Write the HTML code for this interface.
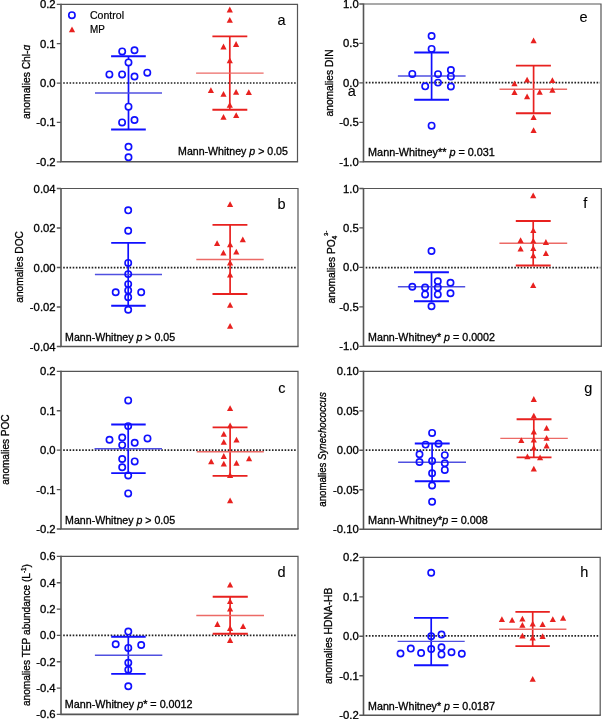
<!DOCTYPE html>
<html><head><meta charset="utf-8"><title>Figure</title>
<style>
html,body{margin:0;padding:0;background:#fff;}
body{width:602px;height:719px;overflow:hidden;}
svg{display:block;will-change:transform;}
text{font-family:"Liberation Sans", sans-serif;fill:#000;stroke:#000;stroke-width:0.32px;}
</style></head>
<body>
<svg width="602" height="719" viewBox="0 0 602 719">
<rect width="602" height="719" fill="#fff"/>
<path d="M61.0 4.3H297.5V161.8" fill="none" stroke="#555" stroke-width="1.2"/>
<path d="M61.0 3.6999999999999997V161.8H298.1" fill="none" stroke="#555" stroke-width="1.6"/>
<path d="M56.8 4.3H61.0M56.8 43.67H61.0M56.8 83.05H61.0M56.8 122.42H61.0M56.8 161.8H61.0" stroke="#555" stroke-width="1.3"/>
<text x="55.6" y="8.3" text-anchor="end" font-size="11.3">0.2</text>
<text x="55.6" y="47.67" text-anchor="end" font-size="11.3">0.1</text>
<text x="55.6" y="87.05" text-anchor="end" font-size="11.3">0.0</text>
<text x="55.6" y="126.42" text-anchor="end" font-size="11.3">-0.1</text>
<text x="55.6" y="165.8" text-anchor="end" font-size="11.3">-0.2</text>
<path d="M63.2 83.0H296.5" stroke="#222" stroke-width="1.7" stroke-dasharray="1.6 1.563"/>
<path d="M128.5 56.2V129.5" stroke="#1010ff" stroke-width="1.7"/>
<path d="M111.1 56.2H145.8M111.1 129.5H145.8" stroke="#1010ff" stroke-width="1.9"/>
<path d="M95.0 93.0H162.0" stroke="#5050e0" stroke-width="1.4"/>
<circle cx="122.2" cy="51.4" r="3.15" fill="#fff" stroke="#1010ff" stroke-width="1.65"/>
<circle cx="134.5" cy="50.3" r="3.15" fill="#fff" stroke="#1010ff" stroke-width="1.65"/>
<circle cx="128.5" cy="62.4" r="3.15" fill="#fff" stroke="#1010ff" stroke-width="1.65"/>
<circle cx="109.4" cy="74.4" r="3.15" fill="#fff" stroke="#1010ff" stroke-width="1.65"/>
<circle cx="122.1" cy="74.4" r="3.15" fill="#fff" stroke="#1010ff" stroke-width="1.65"/>
<circle cx="134.5" cy="76.5" r="3.15" fill="#fff" stroke="#1010ff" stroke-width="1.65"/>
<circle cx="147.3" cy="72.7" r="3.15" fill="#fff" stroke="#1010ff" stroke-width="1.65"/>
<circle cx="128.5" cy="106.7" r="3.15" fill="#fff" stroke="#1010ff" stroke-width="1.65"/>
<circle cx="122.1" cy="122.4" r="3.15" fill="#fff" stroke="#1010ff" stroke-width="1.65"/>
<circle cx="134.5" cy="120" r="3.15" fill="#fff" stroke="#1010ff" stroke-width="1.65"/>
<circle cx="128.5" cy="146.8" r="3.15" fill="#fff" stroke="#1010ff" stroke-width="1.65"/>
<circle cx="128.5" cy="157.2" r="3.15" fill="#fff" stroke="#1010ff" stroke-width="1.65"/>
<path d="M229.8 36.4V109.7" stroke="#e8211f" stroke-width="1.7"/>
<path d="M212.4 36.4H247.3M212.4 109.7H247.3" stroke="#e8211f" stroke-width="1.9"/>
<path d="M196.1 73.1H263.6" stroke="#ec6a66" stroke-width="1.4"/>
<path d="M229.80 6.60L232.90 12.40L226.70 12.40Z" fill="#e8211f"/>
<path d="M229.80 17.00L232.90 22.80L226.70 22.80Z" fill="#e8211f"/>
<path d="M223.50 43.60L226.60 49.40L220.40 49.40Z" fill="#e8211f"/>
<path d="M236.10 41.10L239.20 46.90L233.00 46.90Z" fill="#e8211f"/>
<path d="M229.80 57.40L232.90 63.20L226.70 63.20Z" fill="#e8211f"/>
<path d="M210.90 87.30L214.00 93.10L207.80 93.10Z" fill="#e8211f"/>
<path d="M223.50 91.00L226.60 96.80L220.40 96.80Z" fill="#e8211f"/>
<path d="M236.10 89.00L239.20 94.80L233.00 94.80Z" fill="#e8211f"/>
<path d="M248.80 89.30L251.90 95.10L245.70 95.10Z" fill="#e8211f"/>
<path d="M229.80 102.00L232.90 107.80L226.70 107.80Z" fill="#e8211f"/>
<path d="M223.50 113.90L226.60 119.70L220.40 119.70Z" fill="#e8211f"/>
<path d="M236.20 112.30L239.30 118.10L233.10 118.10Z" fill="#e8211f"/>
<circle cx="71.9" cy="15.2" r="3.15" fill="#fff" stroke="#1010ff" stroke-width="1.65"/>
<path d="M72.00 26.50L75.10 32.30L68.90 32.30Z" fill="#e8211f"/>
<text x="90" y="19" font-size="10.6" style="stroke-width:0.2px" textLength="34" lengthAdjust="spacingAndGlyphs">Control</text>
<text x="90" y="32.7" font-size="10.2" style="stroke-width:0.2px" textLength="14.8" lengthAdjust="spacingAndGlyphs">MP</text>
<text x="178.1" y="154.8" font-size="11.3" textLength="109.8" lengthAdjust="spacingAndGlyphs">Mann-Whitney <tspan font-style="italic">p</tspan> &gt; 0.05</text>
<text transform="translate(30.1 119.1) rotate(-90)" x="0" y="0" font-size="11.3" textLength="74.4" lengthAdjust="spacingAndGlyphs">anomalies Chl-<tspan font-style="italic">&#x251;</tspan></text>
<text x="277.6" y="24.6" font-size="14.5" style="stroke-width:0.1px">a</text>
<path d="M61.0 188.5H298.0V346.5" fill="none" stroke="#555" stroke-width="1.2"/>
<path d="M61.0 187.9V346.5H298.6" fill="none" stroke="#555" stroke-width="1.6"/>
<path d="M56.8 188.5H61.0M56.8 228.0H61.0M56.8 267.5H61.0M56.8 307.0H61.0M56.8 346.5H61.0" stroke="#555" stroke-width="1.3"/>
<text x="55.6" y="192.5" text-anchor="end" font-size="11.3">0.04</text>
<text x="55.6" y="232.0" text-anchor="end" font-size="11.3">0.02</text>
<text x="55.6" y="271.5" text-anchor="end" font-size="11.3">0.00</text>
<text x="55.6" y="311.0" text-anchor="end" font-size="11.3">-0.02</text>
<text x="55.6" y="350.5" text-anchor="end" font-size="11.3">-0.04</text>
<path d="M63.2 267.6H297.0" stroke="#222" stroke-width="1.7" stroke-dasharray="1.6 1.563"/>
<path d="M128.2 242.9V305.8" stroke="#1010ff" stroke-width="1.7"/>
<path d="M111.2 242.9H145.7M111.2 305.8H145.7" stroke="#1010ff" stroke-width="1.9"/>
<path d="M94.9 274.5H162.0" stroke="#5050e0" stroke-width="1.4"/>
<circle cx="128.2" cy="210.3" r="3.15" fill="none" stroke="#1010ff" stroke-width="1.65"/>
<circle cx="128.2" cy="230.7" r="3.15" fill="none" stroke="#1010ff" stroke-width="1.65"/>
<circle cx="128.2" cy="262.9" r="3.15" fill="none" stroke="#1010ff" stroke-width="1.65"/>
<circle cx="128.2" cy="274.1" r="3.15" fill="none" stroke="#1010ff" stroke-width="1.65"/>
<circle cx="128.2" cy="284.1" r="3.15" fill="none" stroke="#1010ff" stroke-width="1.65"/>
<circle cx="128.2" cy="290.4" r="3.15" fill="none" stroke="#1010ff" stroke-width="1.65"/>
<circle cx="128.2" cy="297.3" r="3.15" fill="none" stroke="#1010ff" stroke-width="1.65"/>
<circle cx="115.7" cy="292.2" r="3.15" fill="none" stroke="#1010ff" stroke-width="1.65"/>
<circle cx="141.2" cy="292.2" r="3.15" fill="none" stroke="#1010ff" stroke-width="1.65"/>
<circle cx="128.2" cy="309.8" r="3.15" fill="none" stroke="#1010ff" stroke-width="1.65"/>
<path d="M230.1 224.9V294.0" stroke="#e8211f" stroke-width="1.7"/>
<path d="M212.5 224.9H247.4M212.5 294.0H247.4" stroke="#e8211f" stroke-width="1.9"/>
<path d="M196.3 259.5H263.7" stroke="#ec6a66" stroke-width="1.4"/>
<path d="M230.10 201.30L233.20 207.10L227.00 207.10Z" fill="#e8211f"/>
<path d="M217.10 240.30L220.20 246.10L214.00 246.10Z" fill="#e8211f"/>
<path d="M242.80 236.40L245.90 242.20L239.70 242.20Z" fill="#e8211f"/>
<path d="M230.10 241.40L233.20 247.20L227.00 247.20Z" fill="#e8211f"/>
<path d="M223.40 249.70L226.50 255.50L220.30 255.50Z" fill="#e8211f"/>
<path d="M236.30 248.70L239.40 254.50L233.20 254.50Z" fill="#e8211f"/>
<path d="M230.10 259.80L233.20 265.60L227.00 265.60Z" fill="#e8211f"/>
<path d="M230.10 271.70L233.20 277.50L227.00 277.50Z" fill="#e8211f"/>
<path d="M230.10 301.90L233.20 307.70L227.00 307.70Z" fill="#e8211f"/>
<path d="M230.10 323.00L233.20 328.80L227.00 328.80Z" fill="#e8211f"/>
<text x="65.1" y="341.4" font-size="11.3" textLength="110.0" lengthAdjust="spacingAndGlyphs">Mann-Whitney <tspan font-style="italic">p</tspan> &gt; 0.05</text>
<text transform="translate(22.6 302.7) rotate(-90)" x="0" y="0" font-size="11.3" textLength="71.6" lengthAdjust="spacingAndGlyphs">anomalies DOC</text>
<text x="277.6" y="209.2" font-size="14.5" style="stroke-width:0.1px">b</text>
<path d="M61.0 371.3H298.0V529.0" fill="none" stroke="#555" stroke-width="1.2"/>
<path d="M61.0 370.7V529.0H298.6" fill="none" stroke="#555" stroke-width="1.6"/>
<path d="M56.8 371.3H61.0M56.8 410.73H61.0M56.8 450.15H61.0M56.8 489.57H61.0M56.8 529.0H61.0" stroke="#555" stroke-width="1.3"/>
<text x="55.6" y="375.3" text-anchor="end" font-size="11.3">0.2</text>
<text x="55.6" y="414.73" text-anchor="end" font-size="11.3">0.1</text>
<text x="55.6" y="454.15" text-anchor="end" font-size="11.3">0.0</text>
<text x="55.6" y="493.57" text-anchor="end" font-size="11.3">-0.1</text>
<text x="55.6" y="533.0" text-anchor="end" font-size="11.3">-0.2</text>
<path d="M63.2 450.1H297.0" stroke="#222" stroke-width="1.7" stroke-dasharray="1.6 1.563"/>
<path d="M128.2 424.5V473.1" stroke="#1010ff" stroke-width="1.7"/>
<path d="M111.2 424.5H145.7M111.2 473.1H145.7" stroke="#1010ff" stroke-width="1.9"/>
<path d="M94.5 448.7H162.0" stroke="#5050e0" stroke-width="1.4"/>
<circle cx="128.2" cy="400.4" r="3.15" fill="none" stroke="#1010ff" stroke-width="1.65"/>
<circle cx="128.2" cy="426.1" r="3.15" fill="none" stroke="#1010ff" stroke-width="1.65"/>
<circle cx="109.5" cy="439.7" r="3.15" fill="none" stroke="#1010ff" stroke-width="1.65"/>
<circle cx="122.2" cy="437.5" r="3.15" fill="none" stroke="#1010ff" stroke-width="1.65"/>
<circle cx="122.2" cy="445.1" r="3.15" fill="none" stroke="#1010ff" stroke-width="1.65"/>
<circle cx="134.7" cy="442.7" r="3.15" fill="none" stroke="#1010ff" stroke-width="1.65"/>
<circle cx="147.5" cy="438.4" r="3.15" fill="none" stroke="#1010ff" stroke-width="1.65"/>
<circle cx="122.2" cy="459" r="3.15" fill="none" stroke="#1010ff" stroke-width="1.65"/>
<circle cx="122.2" cy="467.2" r="3.15" fill="none" stroke="#1010ff" stroke-width="1.65"/>
<circle cx="134.7" cy="461.4" r="3.15" fill="none" stroke="#1010ff" stroke-width="1.65"/>
<circle cx="128.2" cy="475.5" r="3.15" fill="none" stroke="#1010ff" stroke-width="1.65"/>
<circle cx="128.2" cy="493.4" r="3.15" fill="none" stroke="#1010ff" stroke-width="1.65"/>
<path d="M230.1 427.4V475.9" stroke="#e8211f" stroke-width="1.7"/>
<path d="M212.6 427.4H247.5M212.6 475.9H247.5" stroke="#e8211f" stroke-width="1.9"/>
<path d="M196.7 451.7H263.8" stroke="#ec6a66" stroke-width="1.4"/>
<path d="M230.10 405.20L233.20 411.00L227.00 411.00Z" fill="#e8211f"/>
<path d="M230.10 422.40L233.20 428.20L227.00 428.20Z" fill="#e8211f"/>
<path d="M223.80 431.00L226.90 436.80L220.70 436.80Z" fill="#e8211f"/>
<path d="M223.80 439.00L226.90 444.80L220.70 444.80Z" fill="#e8211f"/>
<path d="M236.50 436.80L239.60 442.60L233.40 442.60Z" fill="#e8211f"/>
<path d="M223.80 453.10L226.90 458.90L220.70 458.90Z" fill="#e8211f"/>
<path d="M211.20 458.50L214.30 464.30L208.10 464.30Z" fill="#e8211f"/>
<path d="M223.80 460.70L226.90 466.50L220.70 466.50Z" fill="#e8211f"/>
<path d="M236.50 460.00L239.60 465.80L233.40 465.80Z" fill="#e8211f"/>
<path d="M249.10 455.50L252.20 461.30L246.00 461.30Z" fill="#e8211f"/>
<path d="M230.10 472.10L233.20 477.90L227.00 477.90Z" fill="#e8211f"/>
<path d="M230.10 497.40L233.20 503.20L227.00 503.20Z" fill="#e8211f"/>
<text x="65.1" y="524.2" font-size="11.3" textLength="110.0" lengthAdjust="spacingAndGlyphs">Mann-Whitney <tspan font-style="italic">p</tspan> &gt; 0.05</text>
<text transform="translate(8.7 484.8) rotate(-90)" x="0" y="0" font-size="11.3" textLength="70.4" lengthAdjust="spacingAndGlyphs">anomalies POC</text>
<text x="278.3" y="392.8" font-size="14.5" style="stroke-width:0.1px">c</text>
<path d="M61.0 556.4H298.0V714.4" fill="none" stroke="#555" stroke-width="1.2"/>
<path d="M61.0 555.8V714.4H298.6" fill="none" stroke="#555" stroke-width="1.6"/>
<path d="M56.8 556.4H61.0M56.8 582.73H61.0M56.8 609.07H61.0M56.8 635.4H61.0M56.8 661.73H61.0M56.8 688.07H61.0M56.8 714.4H61.0" stroke="#555" stroke-width="1.3"/>
<text x="55.6" y="560.4" text-anchor="end" font-size="11.3">0.6</text>
<text x="55.6" y="586.73" text-anchor="end" font-size="11.3">0.4</text>
<text x="55.6" y="613.07" text-anchor="end" font-size="11.3">0.2</text>
<text x="55.6" y="639.4" text-anchor="end" font-size="11.3">0.0</text>
<text x="55.6" y="665.73" text-anchor="end" font-size="11.3">-0.2</text>
<text x="55.6" y="692.07" text-anchor="end" font-size="11.3">-0.4</text>
<text x="55.6" y="718.4" text-anchor="end" font-size="11.3">-0.6</text>
<path d="M63.2 635.3H297.0" stroke="#222" stroke-width="1.7" stroke-dasharray="1.6 1.563"/>
<path d="M128.3 636.7V673.9" stroke="#1010ff" stroke-width="1.7"/>
<path d="M111.2 636.7H145.7M111.2 673.9H145.7" stroke="#1010ff" stroke-width="1.9"/>
<path d="M94.9 655.3H162.3" stroke="#5050e0" stroke-width="1.4"/>
<circle cx="128.3" cy="631.6" r="3.15" fill="none" stroke="#1010ff" stroke-width="1.65"/>
<circle cx="115.7" cy="644.3" r="3.15" fill="none" stroke="#1010ff" stroke-width="1.65"/>
<circle cx="141.2" cy="645" r="3.15" fill="none" stroke="#1010ff" stroke-width="1.65"/>
<circle cx="128.3" cy="647.9" r="3.15" fill="none" stroke="#1010ff" stroke-width="1.65"/>
<circle cx="128.3" cy="662.7" r="3.15" fill="none" stroke="#1010ff" stroke-width="1.65"/>
<circle cx="128.3" cy="669.8" r="3.15" fill="none" stroke="#1010ff" stroke-width="1.65"/>
<circle cx="128.3" cy="686.2" r="3.15" fill="none" stroke="#1010ff" stroke-width="1.65"/>
<path d="M230.1 596.8V633.8" stroke="#e8211f" stroke-width="1.7"/>
<path d="M212.7 596.8H247.8M212.7 633.8H247.8" stroke="#e8211f" stroke-width="1.9"/>
<path d="M196.3 615.5H264.0" stroke="#ec6a66" stroke-width="1.4"/>
<path d="M230.10 581.80L233.20 587.60L227.00 587.60Z" fill="#e8211f"/>
<path d="M230.10 598.20L233.20 604.00L227.00 604.00Z" fill="#e8211f"/>
<path d="M230.10 605.70L233.20 611.50L227.00 611.50Z" fill="#e8211f"/>
<path d="M217.40 621.10L220.50 626.90L214.30 626.90Z" fill="#e8211f"/>
<path d="M243.10 623.30L246.20 629.10L240.00 629.10Z" fill="#e8211f"/>
<path d="M230.10 625.10L233.20 630.90L227.00 630.90Z" fill="#e8211f"/>
<path d="M230.10 637.10L233.20 642.90L227.00 642.90Z" fill="#e8211f"/>
<text x="64.7" y="708.4" font-size="11.3" textLength="127.9" lengthAdjust="spacingAndGlyphs">Mann-Whitney <tspan font-style="italic">p</tspan>* = 0.0012</text>
<text transform="translate(30.0 706.1) rotate(-90)" x="0" y="0" font-size="11.3" textLength="142.0" lengthAdjust="spacingAndGlyphs">anomalies TEP abundance (L<tspan font-size="7" dy="-4">-1</tspan><tspan dy="4">)</tspan></text>
<text x="277.6" y="576.8" font-size="14.5" style="stroke-width:0.1px">d</text>
<path d="M363.5 4.0H601.0V161.8" fill="none" stroke="#555" stroke-width="1.2"/>
<path d="M363.5 3.4V161.8H601.6" fill="none" stroke="#555" stroke-width="1.6"/>
<path d="M359.3 4.0H363.5M359.3 43.45H363.5M359.3 82.9H363.5M359.3 122.35H363.5M359.3 161.8H363.5" stroke="#555" stroke-width="1.3"/>
<text x="358.8" y="8.0" text-anchor="end" font-size="11.3">1.0</text>
<text x="358.8" y="47.45" text-anchor="end" font-size="11.3">0.5</text>
<text x="358.8" y="86.9" text-anchor="end" font-size="11.3">0.0</text>
<text x="358.8" y="126.35" text-anchor="end" font-size="11.3">-0.5</text>
<text x="358.8" y="165.8" text-anchor="end" font-size="11.3">-1.0</text>
<path d="M365.7 82.7H600.0" stroke="#222" stroke-width="1.7" stroke-dasharray="1.6 1.563"/>
<path d="M431.6 52.5V99.8" stroke="#1010ff" stroke-width="1.7"/>
<path d="M414.2 52.5H449.0M414.2 99.8H449.0" stroke="#1010ff" stroke-width="1.9"/>
<path d="M397.9 76.0H465.6" stroke="#5050e0" stroke-width="1.4"/>
<circle cx="431.6" cy="36" r="3.15" fill="none" stroke="#1010ff" stroke-width="1.65"/>
<circle cx="431.6" cy="48.9" r="3.15" fill="none" stroke="#1010ff" stroke-width="1.65"/>
<circle cx="412.3" cy="73.9" r="3.15" fill="none" stroke="#1010ff" stroke-width="1.65"/>
<circle cx="438" cy="74.1" r="3.15" fill="none" stroke="#1010ff" stroke-width="1.65"/>
<circle cx="450.9" cy="70" r="3.15" fill="none" stroke="#1010ff" stroke-width="1.65"/>
<circle cx="450.9" cy="76.4" r="3.15" fill="none" stroke="#1010ff" stroke-width="1.65"/>
<circle cx="425.2" cy="86.3" r="3.15" fill="none" stroke="#1010ff" stroke-width="1.65"/>
<circle cx="438" cy="82.6" r="3.15" fill="none" stroke="#1010ff" stroke-width="1.65"/>
<circle cx="450.9" cy="86.5" r="3.15" fill="none" stroke="#1010ff" stroke-width="1.65"/>
<circle cx="431.6" cy="125.7" r="3.15" fill="none" stroke="#1010ff" stroke-width="1.65"/>
<path d="M533.6 65.6V113.2" stroke="#e8211f" stroke-width="1.7"/>
<path d="M515.9 65.6H550.9M515.9 113.2H550.9" stroke="#e8211f" stroke-width="1.9"/>
<path d="M499.5 89.3H567.1" stroke="#ec6a66" stroke-width="1.4"/>
<path d="M533.60 37.50L536.70 43.30L530.50 43.30Z" fill="#e8211f"/>
<path d="M527.10 76.70L530.20 82.50L524.00 82.50Z" fill="#e8211f"/>
<path d="M514.50 80.50L517.60 86.30L511.40 86.30Z" fill="#e8211f"/>
<path d="M552.40 77.20L555.50 83.00L549.30 83.00Z" fill="#e8211f"/>
<path d="M514.50 89.20L517.60 95.00L511.40 95.00Z" fill="#e8211f"/>
<path d="M527.10 93.40L530.20 99.20L524.00 99.20Z" fill="#e8211f"/>
<path d="M539.70 88.90L542.80 94.70L536.60 94.70Z" fill="#e8211f"/>
<path d="M552.40 86.90L555.50 92.70L549.30 92.70Z" fill="#e8211f"/>
<path d="M533.60 114.30L536.70 120.10L530.50 120.10Z" fill="#e8211f"/>
<path d="M533.60 127.30L536.70 133.10L530.50 133.10Z" fill="#e8211f"/>
<text x="368.1" y="155.5" font-size="11.3" textLength="126.8" lengthAdjust="spacingAndGlyphs">Mann-Whitney** <tspan font-style="italic">p</tspan> = 0.031</text>
<text transform="translate(333.0 116.4) rotate(-90)" x="0" y="0" font-size="11.3" textLength="66.9" lengthAdjust="spacingAndGlyphs">anomalies DIN</text>
<text x="579.6" y="22.4" font-size="14.5" style="stroke-width:0.1px">e</text>
<text x="347.8" y="95.7" font-size="14.5" style="stroke-width:0.1px">a</text>
<path d="M363.5 188.5H601.3V346.3" fill="none" stroke="#555" stroke-width="1.2"/>
<path d="M363.5 187.9V346.3H601.9" fill="none" stroke="#555" stroke-width="1.6"/>
<path d="M359.3 188.5H363.5M359.3 227.95H363.5M359.3 267.4H363.5M359.3 306.85H363.5M359.3 346.3H363.5" stroke="#555" stroke-width="1.3"/>
<text x="358.8" y="192.5" text-anchor="end" font-size="11.3">1.0</text>
<text x="358.8" y="231.95" text-anchor="end" font-size="11.3">0.5</text>
<text x="358.8" y="271.4" text-anchor="end" font-size="11.3">0.0</text>
<text x="358.8" y="310.85" text-anchor="end" font-size="11.3">-0.5</text>
<text x="358.8" y="350.3" text-anchor="end" font-size="11.3">-1.0</text>
<path d="M365.7 267.6H600.3" stroke="#222" stroke-width="1.7" stroke-dasharray="1.6 1.563"/>
<path d="M431.5 272.3V301.3" stroke="#1010ff" stroke-width="1.7"/>
<path d="M414.0 272.3H448.9M414.0 301.3H448.9" stroke="#1010ff" stroke-width="1.9"/>
<path d="M397.9 286.7H465.2" stroke="#5050e0" stroke-width="1.4"/>
<circle cx="431.5" cy="251" r="3.15" fill="none" stroke="#1010ff" stroke-width="1.65"/>
<circle cx="412.3" cy="286.7" r="3.15" fill="none" stroke="#1010ff" stroke-width="1.65"/>
<circle cx="425.1" cy="287.5" r="3.15" fill="none" stroke="#1010ff" stroke-width="1.65"/>
<circle cx="437.8" cy="281.2" r="3.15" fill="none" stroke="#1010ff" stroke-width="1.65"/>
<circle cx="437.8" cy="287.5" r="3.15" fill="none" stroke="#1010ff" stroke-width="1.65"/>
<circle cx="450.5" cy="282.7" r="3.15" fill="none" stroke="#1010ff" stroke-width="1.65"/>
<circle cx="425.1" cy="294.4" r="3.15" fill="none" stroke="#1010ff" stroke-width="1.65"/>
<circle cx="437.8" cy="294.4" r="3.15" fill="none" stroke="#1010ff" stroke-width="1.65"/>
<circle cx="450.5" cy="293.3" r="3.15" fill="none" stroke="#1010ff" stroke-width="1.65"/>
<circle cx="431.5" cy="306.3" r="3.15" fill="none" stroke="#1010ff" stroke-width="1.65"/>
<path d="M533.2 221.0V265.5" stroke="#e8211f" stroke-width="1.7"/>
<path d="M515.8 221.0H550.7M515.8 265.5H550.7" stroke="#e8211f" stroke-width="1.9"/>
<path d="M499.4 243.3H567.2" stroke="#ec6a66" stroke-width="1.4"/>
<path d="M533.20 192.50L536.30 198.30L530.10 198.30Z" fill="#e8211f"/>
<path d="M533.30 227.20L536.40 233.00L530.20 233.00Z" fill="#e8211f"/>
<path d="M520.60 237.30L523.70 243.10L517.50 243.10Z" fill="#e8211f"/>
<path d="M533.30 237.80L536.40 243.60L530.20 243.60Z" fill="#e8211f"/>
<path d="M545.90 239.10L549.00 244.90L542.80 244.90Z" fill="#e8211f"/>
<path d="M520.60 245.70L523.70 251.50L517.50 251.50Z" fill="#e8211f"/>
<path d="M533.30 245.30L536.40 251.10L530.20 251.10Z" fill="#e8211f"/>
<path d="M533.30 252.40L536.40 258.20L530.20 258.20Z" fill="#e8211f"/>
<path d="M545.90 250.30L549.00 256.10L542.80 256.10Z" fill="#e8211f"/>
<path d="M533.20 282.30L536.30 288.10L530.10 288.10Z" fill="#e8211f"/>
<text x="368.1" y="340.5" font-size="11.3" textLength="126.8" lengthAdjust="spacingAndGlyphs">Mann-Whitney* <tspan font-style="italic">p</tspan> = 0.0002</text>
<text transform="translate(334.8 303.4) rotate(-90)" x="0" y="0" font-size="11.3" textLength="72.6" lengthAdjust="spacingAndGlyphs">anomalies PO<tspan font-size="7.5" dy="2.5">4</tspan><tspan font-size="6" dy="-9.5">3-</tspan></text>
<text x="583.2" y="207.9" font-size="14.5" style="stroke-width:0.1px">f</text>
<path d="M363.5 371.3H601.3V529.25" fill="none" stroke="#555" stroke-width="1.2"/>
<path d="M363.5 370.7V529.25H601.9" fill="none" stroke="#555" stroke-width="1.6"/>
<path d="M359.3 371.3H363.5M359.3 410.79H363.5M359.3 450.27H363.5M359.3 489.76H363.5M359.3 529.25H363.5" stroke="#555" stroke-width="1.3"/>
<text x="358.8" y="375.3" text-anchor="end" font-size="11.3">0.10</text>
<text x="358.8" y="414.79" text-anchor="end" font-size="11.3">0.05</text>
<text x="358.8" y="454.27" text-anchor="end" font-size="11.3">0.00</text>
<text x="358.8" y="493.76" text-anchor="end" font-size="11.3">-0.05</text>
<text x="358.8" y="533.25" text-anchor="end" font-size="11.3">-0.10</text>
<path d="M365.7 450.1H600.3" stroke="#222" stroke-width="1.7" stroke-dasharray="1.6 1.563"/>
<path d="M432.1 443.5V481.3" stroke="#1010ff" stroke-width="1.7"/>
<path d="M414.8 443.5H449.7M414.8 481.3H449.7" stroke="#1010ff" stroke-width="1.9"/>
<path d="M398.1 462.3H466.0" stroke="#5050e0" stroke-width="1.4"/>
<circle cx="432.1" cy="432.9" r="3.15" fill="none" stroke="#1010ff" stroke-width="1.65"/>
<circle cx="425.6" cy="444.6" r="3.15" fill="none" stroke="#1010ff" stroke-width="1.65"/>
<circle cx="438.5" cy="443.7" r="3.15" fill="none" stroke="#1010ff" stroke-width="1.65"/>
<circle cx="419.5" cy="454.2" r="3.15" fill="none" stroke="#1010ff" stroke-width="1.65"/>
<circle cx="419.5" cy="462" r="3.15" fill="none" stroke="#1010ff" stroke-width="1.65"/>
<circle cx="432.1" cy="460.9" r="3.15" fill="none" stroke="#1010ff" stroke-width="1.65"/>
<circle cx="444.8" cy="455.1" r="3.15" fill="none" stroke="#1010ff" stroke-width="1.65"/>
<circle cx="444.8" cy="463.2" r="3.15" fill="none" stroke="#1010ff" stroke-width="1.65"/>
<circle cx="444.8" cy="469.9" r="3.15" fill="none" stroke="#1010ff" stroke-width="1.65"/>
<circle cx="432.1" cy="473.2" r="3.15" fill="none" stroke="#1010ff" stroke-width="1.65"/>
<circle cx="432.1" cy="485.5" r="3.15" fill="none" stroke="#1010ff" stroke-width="1.65"/>
<circle cx="432.1" cy="501.8" r="3.15" fill="none" stroke="#1010ff" stroke-width="1.65"/>
<path d="M533.8 419.2V457.4" stroke="#e8211f" stroke-width="1.7"/>
<path d="M516.6 419.2H551.5M516.6 457.4H551.5" stroke="#e8211f" stroke-width="1.9"/>
<path d="M500.3 438.4H567.8" stroke="#ec6a66" stroke-width="1.4"/>
<path d="M533.80 396.10L536.90 401.90L530.70 401.90Z" fill="#e8211f"/>
<path d="M533.80 412.70L536.90 418.50L530.70 418.50Z" fill="#e8211f"/>
<path d="M546.60 425.00L549.70 430.80L543.50 430.80Z" fill="#e8211f"/>
<path d="M533.80 428.60L536.90 434.40L530.70 434.40Z" fill="#e8211f"/>
<path d="M521.30 437.30L524.40 443.10L518.20 443.10Z" fill="#e8211f"/>
<path d="M533.80 436.80L536.90 442.60L530.70 442.60Z" fill="#e8211f"/>
<path d="M546.60 435.00L549.70 440.80L543.50 440.80Z" fill="#e8211f"/>
<path d="M546.60 442.60L549.70 448.40L543.50 448.40Z" fill="#e8211f"/>
<path d="M533.80 444.60L536.90 450.40L530.70 450.40Z" fill="#e8211f"/>
<path d="M527.40 453.40L530.50 459.20L524.30 459.20Z" fill="#e8211f"/>
<path d="M540.10 454.50L543.20 460.30L537.00 460.30Z" fill="#e8211f"/>
<path d="M533.80 465.70L536.90 471.50L530.70 471.50Z" fill="#e8211f"/>
<text x="368.1" y="524.1" font-size="11.3" textLength="119.8" lengthAdjust="spacingAndGlyphs">Mann-Whitney*<tspan font-style="italic">p</tspan> = 0.008</text>
<text transform="translate(325.6 506.7) rotate(-90)" x="0" y="0" font-size="11.3" textLength="114.5" lengthAdjust="spacingAndGlyphs">anomalies <tspan font-style="italic">Synechococcus</tspan></text>
<text x="584.3" y="392.5" font-size="14.5" style="stroke-width:0.1px">g</text>
<path d="M363.5 557.3H600.2V715.25" fill="none" stroke="#555" stroke-width="1.2"/>
<path d="M363.5 556.6999999999999V715.25H600.8000000000001" fill="none" stroke="#555" stroke-width="1.6"/>
<path d="M359.3 557.3H363.5M359.3 596.79H363.5M359.3 636.27H363.5M359.3 675.76H363.5M359.3 715.25H363.5" stroke="#555" stroke-width="1.3"/>
<text x="358.8" y="561.3" text-anchor="end" font-size="11.3">0.2</text>
<text x="358.8" y="600.79" text-anchor="end" font-size="11.3">0.1</text>
<text x="358.8" y="640.27" text-anchor="end" font-size="11.3">0.0</text>
<text x="358.8" y="679.76" text-anchor="end" font-size="11.3">-0.1</text>
<text x="358.8" y="719.25" text-anchor="end" font-size="11.3">-0.2</text>
<path d="M365.7 635.9H599.2" stroke="#222" stroke-width="1.7" stroke-dasharray="1.6 1.563"/>
<path d="M431.2 617.9V665.2" stroke="#1010ff" stroke-width="1.7"/>
<path d="M414.0 617.9H448.4M414.0 665.2H448.4" stroke="#1010ff" stroke-width="1.9"/>
<path d="M397.6 641.4H464.7" stroke="#5050e0" stroke-width="1.4"/>
<circle cx="431.2" cy="572.7" r="3.15" fill="none" stroke="#1010ff" stroke-width="1.65"/>
<circle cx="431.2" cy="636.3" r="3.15" fill="none" stroke="#1010ff" stroke-width="1.65"/>
<circle cx="441.5" cy="634.5" r="3.15" fill="none" stroke="#1010ff" stroke-width="1.65"/>
<circle cx="400.5" cy="653.5" r="3.15" fill="none" stroke="#1010ff" stroke-width="1.65"/>
<circle cx="410.8" cy="648.6" r="3.15" fill="none" stroke="#1010ff" stroke-width="1.65"/>
<circle cx="421.1" cy="653.1" r="3.15" fill="none" stroke="#1010ff" stroke-width="1.65"/>
<circle cx="431.2" cy="649" r="3.15" fill="none" stroke="#1010ff" stroke-width="1.65"/>
<circle cx="441.5" cy="647.3" r="3.15" fill="none" stroke="#1010ff" stroke-width="1.65"/>
<circle cx="441.5" cy="654.4" r="3.15" fill="none" stroke="#1010ff" stroke-width="1.65"/>
<circle cx="451.5" cy="652.2" r="3.15" fill="none" stroke="#1010ff" stroke-width="1.65"/>
<circle cx="461.8" cy="653.7" r="3.15" fill="none" stroke="#1010ff" stroke-width="1.65"/>
<path d="M532.7 611.9V646.1" stroke="#e8211f" stroke-width="1.7"/>
<path d="M515.4 611.9H549.8M515.4 646.1H549.8" stroke="#e8211f" stroke-width="1.9"/>
<path d="M499.1 629.2H566.4" stroke="#ec6a66" stroke-width="1.4"/>
<path d="M501.90 616.20L505.00 622.00L498.80 622.00Z" fill="#e8211f"/>
<path d="M512.10 617.00L515.20 622.80L509.00 622.80Z" fill="#e8211f"/>
<path d="M522.40 615.70L525.50 621.50L519.30 621.50Z" fill="#e8211f"/>
<path d="M552.80 616.20L555.90 622.00L549.70 622.00Z" fill="#e8211f"/>
<path d="M563.10 615.00L566.20 620.80L560.00 620.80Z" fill="#e8211f"/>
<path d="M522.40 622.00L525.50 627.80L519.30 627.80Z" fill="#e8211f"/>
<path d="M532.70 620.80L535.80 626.60L529.60 626.60Z" fill="#e8211f"/>
<path d="M542.60 621.20L545.70 627.00L539.50 627.00Z" fill="#e8211f"/>
<path d="M522.40 632.80L525.50 638.60L519.30 638.60Z" fill="#e8211f"/>
<path d="M532.70 634.80L535.80 640.60L529.60 640.60Z" fill="#e8211f"/>
<path d="M542.60 633.30L545.70 639.10L539.50 639.10Z" fill="#e8211f"/>
<path d="M532.70 676.00L535.80 681.80L529.60 681.80Z" fill="#e8211f"/>
<text x="368.1" y="709.8" font-size="11.3" textLength="126.8" lengthAdjust="spacingAndGlyphs">Mann-Whitney* <tspan font-style="italic">p</tspan> = 0.0187</text>
<text transform="translate(332.0 684.1) rotate(-90)" x="0" y="0" font-size="11.3" textLength="96.5" lengthAdjust="spacingAndGlyphs">anomalies HDNA-HB</text>
<text x="580.3" y="576.8" font-size="14.5" style="stroke-width:0.1px">h</text>
</svg>
</body></html>
